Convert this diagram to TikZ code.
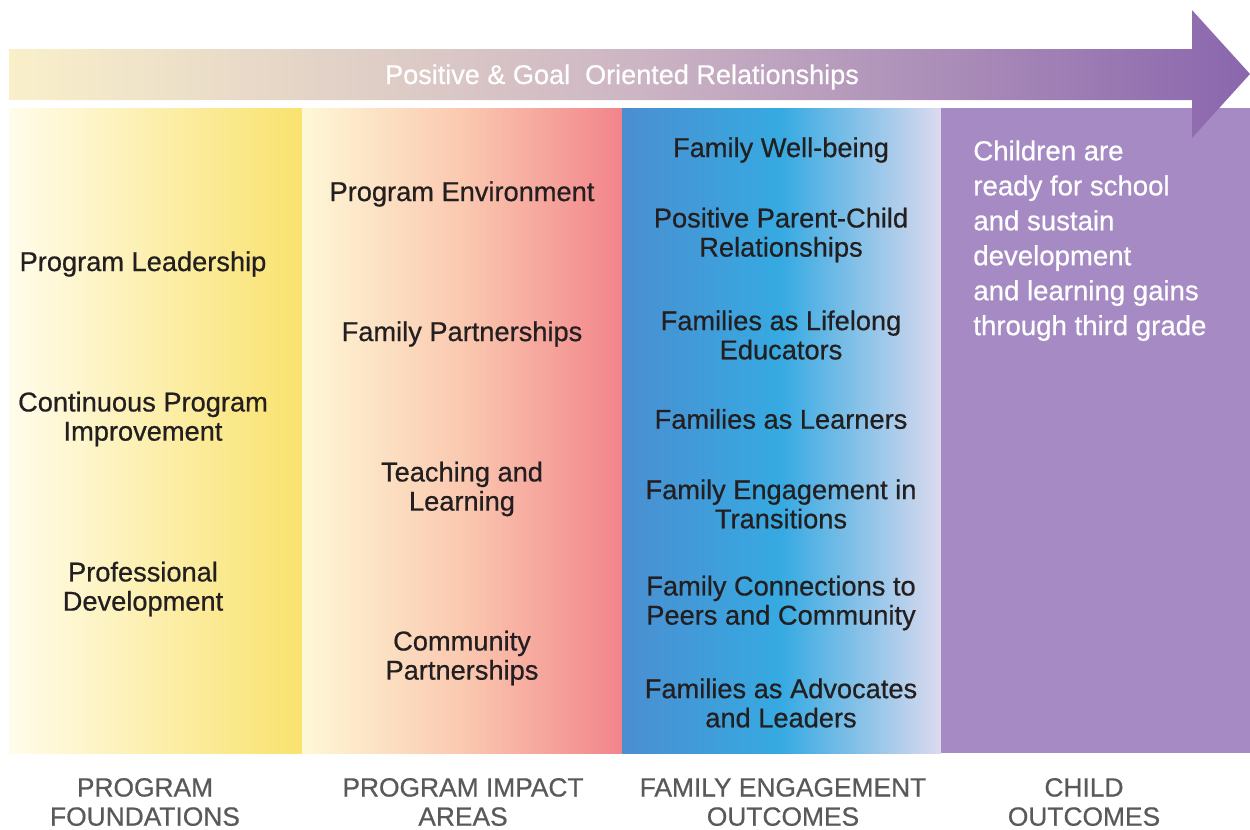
\documentclass[tikz,border=0pt]{standalone}
\usepackage{fontspec}
\setmainfont{Liberation Sans}
\newfontfamily\medfont[FakeBold=0.6]{Liberation Sans}
\definecolor{txt}{HTML}{231F20}
\definecolor{lbl}{HTML}{58595B}
\definecolor{c1a}{HTML}{FFFCEB}
\definecolor{c1b}{HTML}{F9E26E}
\definecolor{c2a}{HTML}{FEF8D6}
\definecolor{c2m}{HTML}{FAC9B0}
\definecolor{c2b}{HTML}{F2848A}
\definecolor{c3a}{HTML}{4B8ED0}
\definecolor{c3m}{HTML}{36AAE2}
\definecolor{c3b}{HTML}{DCDAEE}
\definecolor{c4}{HTML}{A58AC4}
\definecolor{ara}{HTML}{F9F0CA}
\definecolor{arm}{HTML}{CDB6C4}
\definecolor{arb}{HTML}{8A66AD}
\tikzset{
  item/.style={align=center,text=txt,font=\medfont\fontsize{15.5}{16.6}\selectfont,inner sep=0pt},
  clabel/.style={align=center,text=lbl,font=\medfont\fontsize{15}{16.6}\selectfont,inner sep=0pt},
  outc/.style={align=left,text=white,font=\medfont\fontsize{15.7}{19.9}\selectfont,inner sep=0pt,anchor=north west},
}
\begin{document}
\begin{tikzpicture}[x=0.02cm,y=-0.02cm]
\useasboundingbox (0,0) rectangle (1250,829);
% columns
\shade[left color=c1a,right color=c1b] (9,108) rectangle (302,753);
\shade[left color=c2a,right color=c2b,middle color=c2m] (302,108) rectangle (622,753);
\shade[left color=c3a,right color=c3b,middle color=c3m] (622,108) rectangle (941,753);
\fill[c4] (941,108) rectangle (1250,753);
% arrow
\shade[left color=ara,right color=arb,middle color=arm] (9,49) -- (1192,49) -- (1192,10) -- (1250,74) -- (1192,138) -- (1192,100) -- (9,100) -- cycle;
\node[text=white,font=\medfont\fontsize{15.4}{16.6}\selectfont,inner sep=0pt] (arrowtxt) at (622,77) {Positive \& Goal\ \ Oriented Relationships};
% column 1
\node[item] (pl) at (143,264) {Program Leadership};
\node[item] (cpi) at (143,419) {Continuous Program\\Improvement};
\node[item] (pd) at (143,589) {Professional\\Development};
% column 2
\node[item] (pe) at (462,194) {Program Environment};
\node[item] (fp) at (462,334) {Family Partnerships};
\node[item] (tl) at (462,489) {Teaching and\\Learning};
\node[item] (cp) at (462,658) {Community\\Partnerships};
% column 3
\node[item] (fwb) at (781,150) {Family Well-being};
\node[item] (ppc) at (781,235) {Positive Parent-Child\\Relationships};
\node[item] (fle) at (781,335) {Families as Lifelong\\Educators};
\node[item] (fal) at (781,419) {Families as Learners};
\node[item] (fet) at (781,504) {Family Engagement in\\Transitions};
\node[item] (fcp) at (781,603) {Family Connections to\\Peers and Community};
\node[item] (faa) at (781,703) {Families as Advocates\\and Leaders};
% column 4
\node[outc] (co) at (973,140) {Children are\\ready for school\\and sustain\\development\\and learning gains\\through third grade};
% bottom labels
\node[clabel] (l1) at (145,802) {PROGRAM\\FOUNDATIONS};
\node[clabel] (l2) at (463,802) {PROGRAM IMPACT\\AREAS};
\node[clabel] (l3) at (783,802) {FAMILY ENGAGEMENT\\OUTCOMES};
\node[clabel] (l4) at (1084,802) {CHILD\\OUTCOMES};
\end{tikzpicture}
\end{document}
